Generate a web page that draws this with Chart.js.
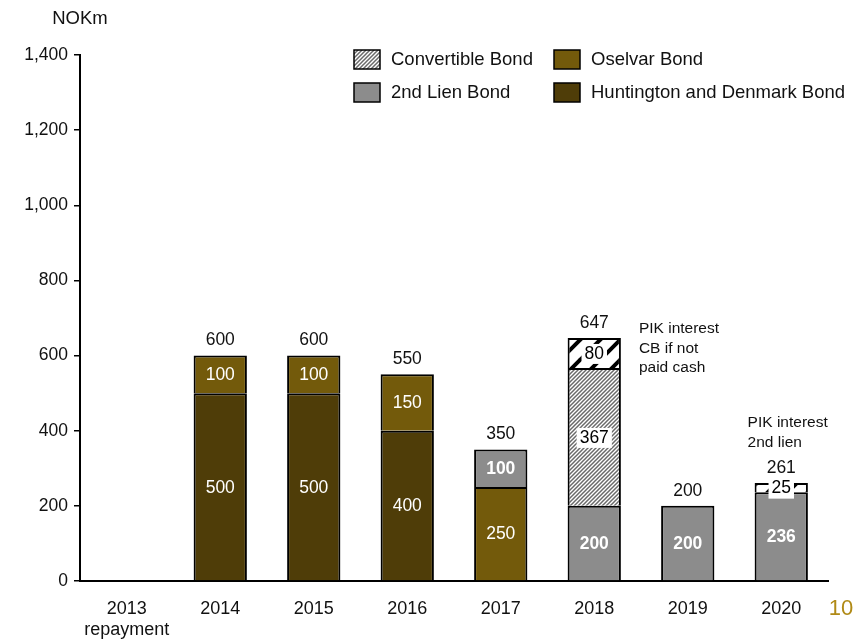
<!DOCTYPE html>
<html>
<head>
<meta charset="utf-8">
<script src="https://cdn.jsdelivr.net/npm/chart.js@4.4.1/dist/chart.umd.min.js"></script>
<style>
  body { margin: 0; background: #fff; }
</style>
</head>
<body>
<canvas id="maturityChart" width="868" height="643"></canvas>
<script>
const years = [['2013', 'repayment'], '2014', '2015', '2016', '2017', '2018', '2019', '2020'];
const huntingtonDenmark = [null, 500, 500, 400, null, null, null, null];
const oselvar = [null, 100, 100, 150, 250, null, null, null];
const secondLien = [null, null, null, null, 100, 200, 200, 236];
const convertible = [null, null, null, null, null, 367, null, null];
const pikInterest = [null, null, null, null, null, 80, null, 25];
const yTicks = [0, 200, 400, 600, 800, 1000, 1200, 1400];

const pikNotes = [
  { index: 5, lines: ['PIK interest', 'CB if not', 'paid cash'] },
  { index: 7, lines: ['PIK interest', '2nd lien'] }
];

const FONT = "'Liberation Sans', Arial, sans-serif";
Chart.defaults.font.family = FONT;
Chart.defaults.font.size = 17;
Chart.defaults.color = '#111';

const makeStripes = (size, width, color) => {
  const c = document.createElement('canvas');
  c.width = size;
  c.height = size;
  const g = c.getContext('2d');
  g.fillStyle = '#fff';
  g.fillRect(0, 0, size, size);
  g.strokeStyle = color;
  g.lineWidth = width;
  g.lineCap = 'square';
  for (const off of [-size, 0, size]) {
    g.beginPath();
    g.moveTo(off, size);
    g.lineTo(off + size, 0);
    g.stroke();
  }
  return g.createPattern(c, 'repeat');
};

const cbHatch = makeStripes(4, 1.5, '#6a6a6a');
const pikHatch = makeStripes(20, 4, '#000');

const barLabels = {
  id: 'barLabels',
  afterDatasetsDraw(chart) {
    const { ctx, scales: { y } } = chart;
    ctx.save();
    ctx.textAlign = 'center';
    ctx.textBaseline = 'middle';
    chart.data.datasets.forEach((ds, i) => {
      chart.getDatasetMeta(i).data.forEach((bar, j) => {
        const v = ds.data[j];
        if (v == null) return;
        const cy = (bar.y + bar.base) / 2 + 1;
        ctx.font = ds.labelFont;
        if (ds.labelBox) {
          const w = ctx.measureText(String(v)).width + 6;
          ctx.fillStyle = '#fff';
          ctx.fillRect(bar.x - w / 2, cy - 10, w, 20);
        }
        ctx.fillStyle = ds.labelColor;
        ctx.fillText(String(v), bar.x, cy);
      });
    });

    // stack totals above each column
    ctx.font = `17.5px ${FONT}`;
    ctx.fillStyle = '#111';
    const first = chart.getDatasetMeta(0).data;
    years.forEach((_, j) => {
      const total = chart.data.datasets.reduce((s, ds) => s + (ds.data[j] || 0), 0);
      if (!total) return;
      ctx.fillText(String(total), first[j].x, y.getPixelForValue(total) - 15);
    });

    // PIK notes
    ctx.font = `15.5px ${FONT}`;
    ctx.textAlign = 'left';
    pikNotes.forEach(note => {
      const bar = first[note.index];
      const top = y.getPixelForValue(
        chart.data.datasets.reduce((s, ds) => s + (ds.data[note.index] || 0), 0));
      const x0 = note.lines.length === 3 ? bar.x + bar.width / 2 + 18 : bar.x - bar.width / 2 - 7;
      const y0 = note.lines.length === 3 ? top - 9 : top - 60;
      note.lines.forEach((t, k) => ctx.fillText(t, x0, y0 + k * 19.5));
    });
    ctx.restore();
  }
};

const legendItems = [
  { label: 'Convertible Bond', fill: cbHatch, col: 0, row: 0 },
  { label: 'Oselvar Bond', fill: '#735a0b', col: 1, row: 0 },
  { label: '2nd Lien Bond', fill: '#8c8c8c', col: 0, row: 1 },
  { label: 'Huntington and Denmark Bond', fill: '#4f3d08', col: 1, row: 1 }
];

const sideTexts = {
  id: 'sideTexts',
  afterDraw(chart) {
    const { ctx, chartArea } = chart;
    ctx.save();
    ctx.textBaseline = 'middle';
    ctx.font = `18.5px ${FONT}`;
    legendItems.forEach(it => {
      const bx = 354 + it.col * 200;
      const by = 50 + it.row * 33;
      ctx.fillStyle = it.fill;
      ctx.fillRect(bx, by, 26, 19);
      ctx.strokeStyle = '#000';
      ctx.lineWidth = 1.5;
      ctx.strokeRect(bx, by, 26, 19);
      ctx.fillStyle = '#111';
      ctx.textAlign = 'left';
      ctx.fillText(it.label, bx + 37, by + 10);
    });

    ctx.textAlign = 'center';
    ctx.fillText('NOKm', chartArea.left, 19);

    ctx.font = `22px ${FONT}`;
    ctx.fillStyle = '#b08a16';
    ctx.fillText('10', 841, 609);
    ctx.restore();
  }
};

const segment = (label, data, backgroundColor, labelColor, labelFont, labelBox) => ({
  label, data, backgroundColor, labelColor, labelFont, labelBox,
  borderColor: '#000',
  borderWidth: 2,
  barPercentage: 0.57,
  categoryPercentage: 1
});

new Chart(document.getElementById('maturityChart'), {
  type: 'bar',
  data: {
    labels: years,
    datasets: [
      segment('Huntington and Denmark Bond', huntingtonDenmark, '#4f3d08', '#fff', `17.5px ${FONT}`, false),
      segment('Oselvar Bond', oselvar, '#735a0b', '#fff', `17.5px ${FONT}`, false),
      segment('2nd Lien Bond', secondLien, '#8c8c8c', '#fff', `bold 17.5px ${FONT}`, false),
      segment('Convertible Bond', convertible, cbHatch, '#000', `17.5px ${FONT}`, true),
      segment('PIK interest', pikInterest, pikHatch, '#000', `17.5px ${FONT}`, true)
    ]
  },
  options: {
    responsive: false,
    animation: false,
    layout: { padding: { top: 55, right: 40, bottom: 0, left: 0 } },
    plugins: {
      legend: { display: false },
      tooltip: { enabled: false }
    },
    scales: {
      x: {
        stacked: true,
        afterFit: s => { s.height = 62; },
        grid: { display: false, drawTicks: false },
        border: { color: '#000', width: 2 },
        ticks: { padding: 17, font: { size: 18 }, color: '#111', maxRotation: 0 }
      },
      y: {
        stacked: true,
        min: 0,
        max: 1400,
        afterFit: s => { s.width = 80; },
        afterBuildTicks: s => { s.ticks = yTicks.map(v => ({ value: v })); },
        grid: { drawOnChartArea: false, drawTicks: true, tickLength: 6, color: '#000', lineWidth: 1.5 },
        border: { color: '#000', width: 2 },
        ticks: {
          padding: 6,
          color: '#111',
          font: { size: 17.5 },
          callback: v => v.toLocaleString('en-US')
        }
      }
    }
  },
  plugins: [barLabels, sideTexts]
});
</script>
</body>
</html>
